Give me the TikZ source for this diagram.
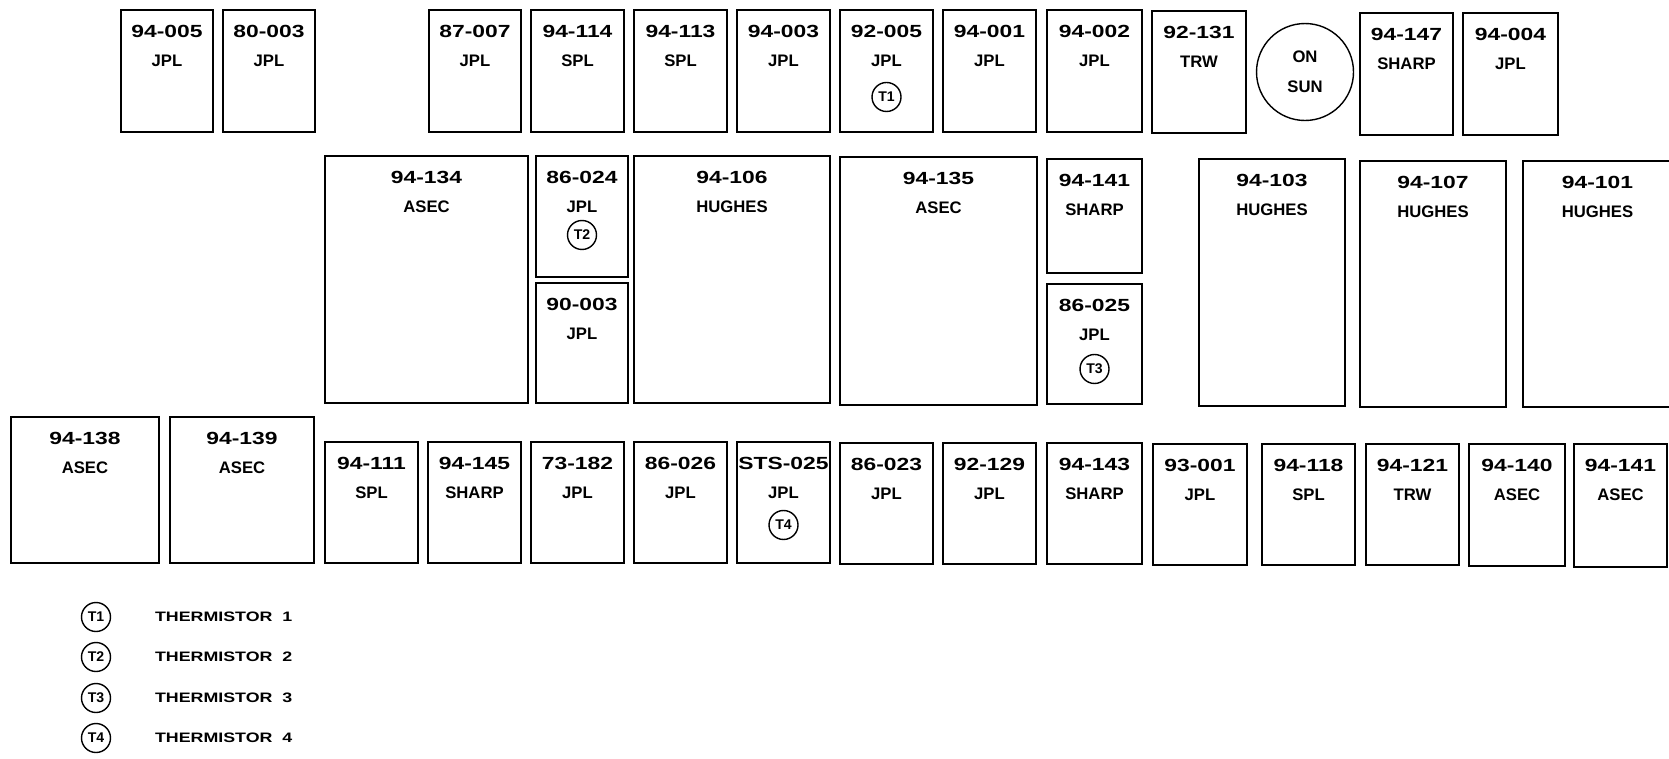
\documentclass[tikz,border=0pt]{standalone}
\usepackage{fontspec}
\setmainfont{Liberation Sans}
\newfontfamily\idfont[FakeStretch=1.3]{Liberation Sans}
\usetikzlibrary{positioning}
\tikzset{
  panel/.style={draw,line width=1pt,inner sep=0pt,outer sep=0pt,anchor=north west},
  idtext/.style={font=\idfont\bfseries\fontsize{10}{12}\selectfont,inner sep=0pt},
  orgtext/.style={font=\bfseries\fontsize{9.5}{11}\selectfont,inner sep=0pt},
  thermo/.style={draw,circle,line width=0.8pt,minimum size=0.58cm,inner sep=0pt,
    font=\bfseries\fontsize{8}{9}\selectfont},
  sunmark/.style={draw,circle,line width=0.8pt,minimum size=1.94cm,inner sep=0pt,
    align=center,font=\bfseries\fontsize{9.5}{11}\selectfont},
  legendtext/.style={font=\idfont\bfseries\fontsize{7.8}{10}\selectfont,inner sep=0pt}
}
\begin{document}
\begin{tikzpicture}[x=0.02cm,y=-0.02cm]
  \useasboundingbox (0,0) rectangle (1669,758);
  % panels: name/left/top/right/bottom/number/maker
  \foreach \n/\a/\b/\c/\d/\id/\org in {
    p94005/121/10/213/132/94-005/JPL, p80003/223/10/315/132/80-003/JPL,
    p87007/429/10/521/132/87-007/JPL, p94114/531/10/624/132/94-114/SPL,
    p94113/634/10/727/132/94-113/SPL, p94003/737/10/830/132/94-003/JPL,
    p92005/840/10/933/132/92-005/JPL, p94001/943/10/1036/132/94-001/JPL,
    p94002/1047/10/1142/132/94-002/JPL, p92131/1152/11/1246/133/92-131/TRW,
    p94147/1360/13/1453/135/94-147/SHARP, p94004/1463/13/1558/135/94-004/JPL,
    p94134/325/156/528/403/94-134/ASEC, p86024/536/156/628/277/86-024/JPL,
    p90003/536/283/628/403/90-003/JPL, p94106/634/156/830/403/94-106/HUGHES,
    p94135/840/157/1037/405/94-135/ASEC, p94141s/1047/159/1142/273/94-141/SHARP,
    p86025/1047/284/1142/404/86-025/JPL, p94103/1199/159/1345/406/94-103/HUGHES,
    p94107/1360/161/1506/407/94-107/HUGHES, p94101/1523/161/1672/407/94-101/HUGHES,
    p94138/11/417/159/563/94-138/ASEC, p94139/170/417/314/563/94-139/ASEC,
    p94111/325/442/418/563/94-111/SPL, p94145/428/442/521/563/94-145/SHARP,
    p73182/531/442/624/563/73-182/JPL, p86026/634/442/727/563/86-026/JPL,
    psts025/737/442/830/563/STS-025/JPL, p86023/840/443/933/564/86-023/JPL,
    p92129/943/443/1036/564/92-129/JPL, p94143/1047/443/1142/564/94-143/SHARP,
    p93001/1153/444/1247/565/93-001/JPL, p94118/1262/444/1355/565/94-118/SPL,
    p94121/1366/444/1459/565/94-121/TRW, p94140/1469/444/1565/566/94-140/ASEC,
    p94141a/1574/444/1667/567/94-141/ASEC} {
    \node[panel,minimum width={(\c-\a)*0.02cm},minimum height={(\d-\b)*0.02cm}] (\n) at (\a,\b) {};
    \node[idtext] (\n-id) at ([yshift=-0.42cm]\n.north) {\id};
    \node[orgtext] (\n-org) at ([yshift=-1.01cm]\n.north) {\org};
  }
  \node[sunmark] (sun) at (1305,72) {ON\\[6pt]SUN};
  % thermistor positions
  \node[thermo] (t1) at ([yshift=-1.74cm]p92005.north) {T1};
  \node[thermo] (t2) at ([yshift=-1.58cm]p86024.north) {T2};
  \node[thermo] (t3) at ([yshift=-1.70cm]p86025.north) {T3};
  \node[thermo] (t4) at ([yshift=-1.66cm]psts025.north) {T4};
  % legend
  \foreach \i/\y in {1/617,2/657,3/698,4/738} {
    \node[thermo] (key\i) at (96,\y) {T\i};
    \node[legendtext,right=0.87cm of key\i] (key\i-text) {THERMISTOR \ \i};
  }
\end{tikzpicture}
\end{document}
